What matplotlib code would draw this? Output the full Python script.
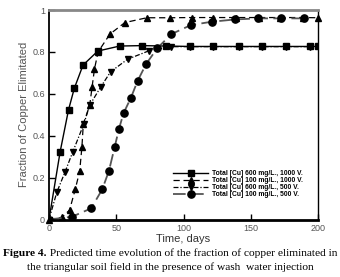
import numpy as np
import matplotlib
matplotlib.use('Agg')
import matplotlib.pyplot as plt

# --------------------------------------------------------------------------------------------
# DATA
days_sq = [0, 8.3, 14.5, 18.8, 25.3, 36.3, 52.6, 69, 87.2, 105, 122, 141, 158, 176, 194, 200]
frac_sq = [0, 0.324, 0.523, 0.626, 0.737, 0.804, 0.828, 0.830, 0.828, 0.826, 0.826, 0.826, 0.826, 0.826, 0.826, 0.826]

days_up = [0, 9.5, 15.3, 19.5, 22.8, 24.5, 25.5, 30.3, 32, 33.8, 36.5, 45.3, 56.4, 72.7, 89.7, 106, 122, 139, 156, 172, 189, 200]
frac_up = [0, 0.01, 0.045, 0.144, 0.23, 0.348, 0.456, 0.546, 0.631, 0.718, 0.80, 0.885, 0.94, 0.963, 0.963, 0.964, 0.964,
           0.964, 0.964, 0.964, 0.964, 0.963]

days_dn = [0, 5.8, 12, 17.5, 25.8, 30.3, 38.3, 45.8, 58.4, 74.6, 91, 105, 122, 141, 158, 176, 194]
frac_dn = [0, 0.13, 0.228, 0.32, 0.454, 0.546, 0.631, 0.705, 0.765, 0.806, 0.825, 0.825, 0.825, 0.825, 0.825, 0.825, 0.825]

days_ci = [0, 17, 31.3, 39.6, 44.6, 48.9, 52, 55.4, 60.9, 65.9, 72.2, 80.4, 91, 105.5, 121, 138.6, 155.6, 172.4, 189.5]
frac_ci = [0, 0.013, 0.053, 0.144, 0.233, 0.348, 0.432, 0.507, 0.581, 0.662, 0.742, 0.817, 0.885, 0.928, 0.944, 0.955,
           0.96, 0.96, 0.96]

labels = ['Total [Cu] 600 mg/L., 1000 V.', 'Total [Cu] 100 mg/L., 1000 V.',
          'Total [Cu] 600 mg/L., 500 V.', 'Total [Cu] 100 mg/L., 500 V.']

xticks = [0, 50, 100, 150, 200]
yticks = [0, 0.2, 0.4, 0.6, 0.8, 1]
yticklabels = ['0', '0.2', '0.4', '0.6', '0.8', '1']

caption_bold = 'Figure 4.'
caption_1 = ' Predicted time evolution of the fraction of copper eliminated in'
caption_2 = 'the triangular soil field in the presence of wash  water injection'

# --------------------------------------------------------------------------------------------
# PLOT
plt.rcParams['font.family'] = ['Liberation Sans', 'DejaVu Sans']

W, H = 340, 277
fig = plt.figure(figsize=(W / 100, H / 100), dpi=100)
ax = fig.add_axes([49 / W, 1 - 219.5 / H, 269 / W, 209.5 / H])

ax.plot(days_sq, frac_sq, color='black', lw=1.0, ls='-', marker='s', ms=4.3, label=labels[0])
ax.plot(days_up, frac_up, color='black', lw=0.9, ls=(0, (5, 3)), marker='^', ms=4.8, label=labels[1], clip_on=False)
ax.plot(days_dn, frac_dn, color='black', lw=0.9, ls=(0, (4, 1.5, 1, 1.5)), marker='v', ms=4.8, label=labels[2])
ax.plot(days_ci, frac_ci, color='#555555', lw=1.3, ls=(0, (7, 3)), marker='o', ms=5.2,
        mfc='black', mec='black', label=labels[3])

ax.set_xlim(0, 200)
ax.set_ylim(0, 1)
ax.set_xticks(xticks)
ax.set_xticklabels([str(t) for t in xticks])
ax.set_yticks(yticks)
ax.set_yticklabels(yticklabels)
ax.tick_params(direction='in', length=4, width=1, labelsize=6.5, labelcolor='#555555', pad=3)

ax.spines['top'].set_color('#888888')
ax.spines['top'].set_linewidth(2)
ax.spines['right'].set_linewidth(1)
ax.spines['left'].set_linewidth(1.3)
ax.spines['bottom'].set_linewidth(2)

ax.set_ylabel('Fraction of Copper Elimitated', fontsize=8, color='#555555', labelpad=2)
ax.set_xlabel('Time, days', fontsize=8, color='#333333', labelpad=1)

leg = ax.legend(loc='upper left', bbox_to_anchor=((173 - 49) / 269, (219.5 - 170) / 209.5),
                frameon=False, prop={'size': 4.9, 'weight': 'bold'}, handlelength=5.2,
                handletextpad=0.6, labelspacing=0.0, borderpad=0, borderaxespad=0)

# caption, centred under the plot
fig.canvas.draw()
r = fig.canvas.get_renderer()
cap_font = dict(family=['Liberation Serif', 'DejaVu Serif'], fontsize=8.2, va='center')
t0 = fig.text(0, 1 - 253 / H, caption_bold, weight='bold', **cap_font)
t1 = fig.text(0, 1 - 253 / H, caption_1, **cap_font)
w0 = t0.get_window_extent(r).width
w1 = t1.get_window_extent(r).width
x0 = (W - (w0 + w1)) / 2
t0.set_x(x0 / W)
t1.set_x((x0 + w0) / W)
fig.text(0.5, 1 - 267 / H, caption_2, ha='center', **cap_font)

fig.savefig('out.png', dpi=100)
